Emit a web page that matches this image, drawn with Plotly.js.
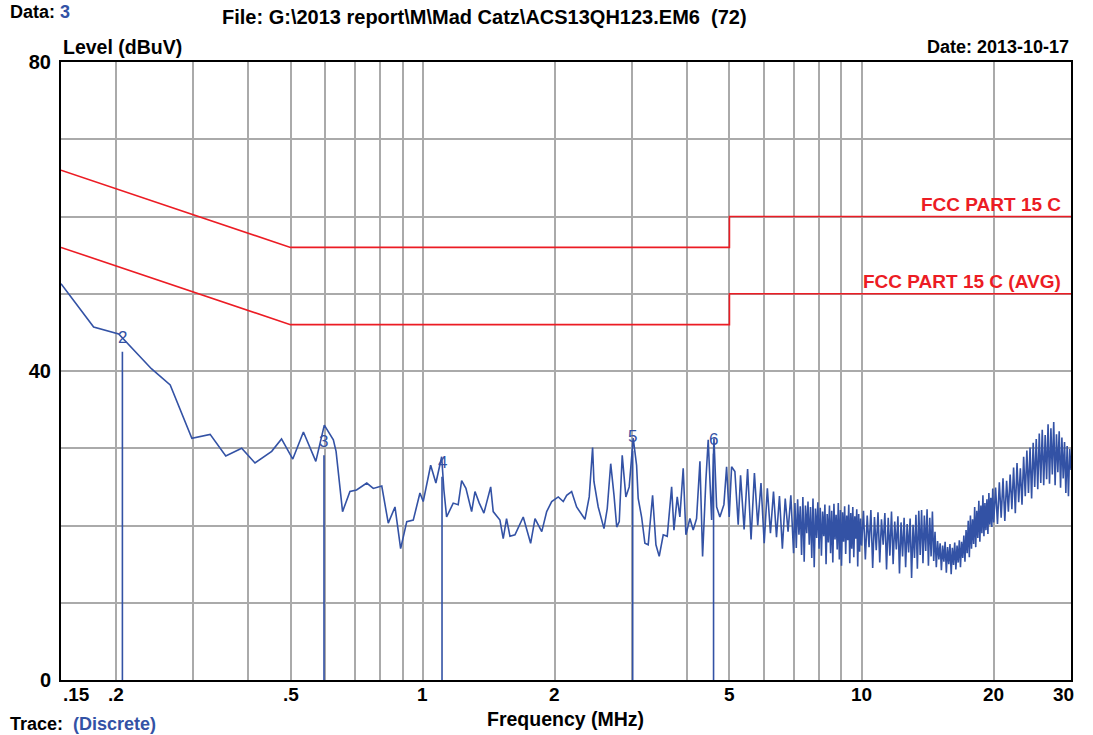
<!DOCTYPE html>
<html><head><meta charset="utf-8">
<script src="https://cdn.plot.ly/plotly-3.0.1.min.js"></script>
<style>html,body{margin:0;padding:0;background:#fff}#chart{width:1093px;height:735px}</style>
</head><body><div id="chart"></div>
<script>
// Measured trace (frequency in MHz, level in dBuV)
const traceFreq = [
0.15,0.178,0.203,0.225,0.241,0.266,0.298,0.328,0.356,0.387,0.415,0.453,0.477,0.506,0.535,0.571,0.597,0.626,0.635,0.657,
0.683,0.707,0.746,0.772,0.807,0.835,0.865,0.891,0.920,0.952,0.986,1.003,1.043,1.072,1.105,1.118,1.134,1.174,1.205,1.227,
1.255,1.293,1.316,1.346,1.379,1.429,1.448,1.500,1.526,1.553,1.581,1.623,1.695,1.762,1.803,1.868,1.917,1.968,2.037,2.091,
2.129,2.185,2.243,2.343,2.396,2.439,2.456,2.512,2.589,2.634,2.682,2.729,2.768,2.805,2.849,2.904,2.955,3.018,3.072,3.098,
3.154,3.209,3.265,3.341,3.400,3.459,3.533,3.608,3.692,3.737,3.802,3.855,3.923,3.979,4.064,4.134,4.208,4.283,4.343,4.419,
4.473,4.554,4.610,4.675,4.755,4.857,4.926,4.994,5.057,5.145,5.235,
5.3,5.4,5.5,5.6,5.7,5.8,5.9,6.0,6.1,6.2,6.3,6.4,6.5,6.6,6.7,6.8,6.9,7.0,
7.05,7.10,7.15,7.20,7.25,7.30,7.35,7.40,7.45,7.50,7.55,7.60,7.65,7.70,7.75,7.80,7.85,7.90,7.95,8.00,
8.05,8.10,8.15,8.20,8.25,8.30,8.35,8.40,8.45,8.50,8.55,8.60,8.65,8.70,8.75,8.80,8.85,8.90,8.95,9.00,
9.05,9.10,9.15,9.20,9.25,9.30,9.35,9.40,9.45,9.50,9.55,9.60,9.65,9.70,9.75,9.80,9.85,9.90,9.95,10.00,
10.1,10.2,10.3,10.4,10.5,10.6,10.7,10.8,10.9,11.0,11.1,11.2,11.3,11.4,11.5,11.6,11.7,11.8,11.9,12.0,
12.1,12.2,12.3,12.4,12.5,12.6,12.7,12.8,12.9,13.0,13.1,13.2,13.3,13.4,13.5,13.6,13.7,13.8,13.9,14.0,
14.1,14.2,14.3,14.4,14.5,14.6,14.7,14.8,14.9,15.0,15.1,15.2,15.3,15.4,15.5,15.6,15.7,15.8,15.9,16.0,
16.1,16.2,16.3,16.4,16.5,16.6,16.7,16.8,16.9,17.0,17.1,17.2,17.3,17.4,17.5,17.6,17.7,17.8,17.9,18.0,
18.1,18.2,18.3,18.4,18.5,18.6,18.7,18.8,18.9,19.0,19.1,19.2,19.3,19.4,19.5,19.6,19.7,19.8,19.9,20.0,
20.2,20.4,20.6,20.8,21.0,21.2,21.4,21.6,21.8,22.0,22.2,22.4,22.6,22.8,23.0,23.2,23.4,23.6,23.8,24.0,
24.2,24.4,24.6,24.8,25.0,25.2,25.4,25.6,25.8,26.0,26.2,26.4,26.6,26.8,27.0,27.2,27.4,27.6,27.8,28.0,
28.2,28.4,28.6,28.8,29.0,29.2,29.4,29.6,29.8,30.0
];
const traceLevel = [
51.3,45.7,44.8,42.1,40.3,38.2,31.3,31.8,29.0,30.0,28.1,29.6,31.2,28.6,32.1,28.3,33.0,31.1,29.6,21.8,
24.4,24.6,25.5,24.8,25.1,20.3,22.4,17.0,20.5,20.7,24.2,23.1,27.8,25.5,28.9,24.6,21.1,22.9,22.7,25.8,
24.8,21.8,24.4,22.9,21.6,25.0,21.8,20.7,18.3,20.9,18.6,18.8,21.1,17.7,20.9,19.2,21.8,23.1,23.7,23.1,
23.9,24.4,22.4,20.8,23.7,30.1,25.7,22.4,19.6,22.2,28.0,23.9,19.8,20.5,29.1,23.7,25.0,31.3,27.8,23.5,
21.1,17.7,17.5,23.9,17.5,16.0,18.8,18.6,25.0,19.4,23.7,21.1,27.4,18.8,20.9,19.4,20.9,28.3,16.0,25.9,
31.1,20.7,31.3,22.4,21.1,22.7,27.6,21.1,27.6,27.0,20.1,
26.5,19.5,27.3,18.2,26.8,20.0,25.5,17.7,24.8,19.0,24.4,18.5,23.8,17.0,23.5,19.2,23.9,16.4,
22.9,17.1,23.4,18.8,22.5,16.2,23.7,15.3,22.6,19.0,23.1,17.5,22.4,15.8,23.5,14.6,22.2,18.4,23.0,17.0,
22.3,16.1,21.8,18.6,22.7,15.0,21.5,17.8,22.6,16.4,21.9,15.2,22.8,18.2,21.4,16.9,22.9,15.6,22.0,14.8,
21.7,17.9,22.5,16.3,21.3,18.1,22.7,15.1,21.6,17.0,22.4,15.9,21.2,18.3,22.1,14.7,21.5,16.6,20.9,17.4,
21.9,15.6,21.3,17.2,22.0,14.5,21.1,16.8,21.7,15.2,20.8,17.5,21.6,14.3,21.0,16.1,21.8,15.0,20.5,16.9,
21.2,13.8,20.4,16.0,21.0,14.6,20.2,16.5,20.9,13.2,20.1,15.8,21.4,14.4,21.9,16.2,22.0,15.1,21.3,16.7,
22.1,14.8,21.0,16.0,21.8,15.4,19.2,14.6,18.0,15.6,17.7,14.2,17.4,15.3,17.9,13.9,17.2,15.0,17.6,13.7,
17.1,14.9,17.8,14.3,17.4,15.2,18.1,14.6,17.9,15.8,18.7,15.3,19.4,16.4,20.6,15.9,21.3,17.0,20.8,17.6,
22.4,17.2,21.9,18.4,23.2,17.9,22.6,19.0,23.9,18.6,22.9,19.4,23.4,18.9,24.2,20.1,23.6,19.8,24.8,20.4,
24.9,20.2,25.6,21.0,26.1,20.6,25.8,21.8,26.6,22.1,27.5,21.6,28.1,23.0,27.4,22.7,28.9,23.8,29.7,24.2,
30.1,23.5,30.7,25.0,31.2,24.7,31.9,25.5,32.4,25.2,31.7,26.0,33.1,25.4,32.6,26.6,33.4,25.2,31.8,26.9,
32.2,24.9,31.4,26.1,30.8,24.2,30.3,23.8,29.9,27.2
];
// Limit lines
const limitFreq = [0.15, 0.5, 5, 5, 30];
const qpLimit = [66, 56, 56, 60, 60];
const avgLimit = [56, 46, 46, 50, 50];
const limitNames = ['FCC PART 15 C', 'FCC PART 15 C (AVG)'];
// Markers
const markerName = ['2', '3', '4', '5', '6'];
const markerFreq = [0.207, 0.596, 1.107, 3.01, 4.60];
const markerLevel = [44.3, 30.9, 28.1, 31.5, 31.1];
// Axes
const xTickVals = [0.15, 0.2, 0.5, 1, 2, 5, 10, 20, 30];
const xTickText = ['.15', '.2', '.5', '1', '2', '5', '10', '20', '30'];
const xGridMinor = [0.3, 0.4, 0.6, 0.7, 0.8, 0.9, 3, 4, 6, 7, 8, 9];
const yTickVals = [0, 40, 80];
const yTickText = ['0', '40', '80'];
const yGridMinor = [10, 20, 30, 50, 60, 70];

const BLUE = 'rgb(51,82,165)';
const RED = 'rgb(236,28,36)';
const FONT = '"Liberation Sans", Arial, sans-serif';
const W = 1093, H = 735, L = 61, R = 22, T = 62, B = 55;
const pw = W - L - R, ph = H - T - B;
const px = x => (x - L) / pw;
const py = y => (H - B - y) / ph;

const traces = [];
traces.push({x: limitFreq, y: qpLimit, mode: 'lines', line: {color: RED, width: 1.6}, hoverinfo: 'skip'});
traces.push({x: limitFreq, y: avgLimit, mode: 'lines', line: {color: RED, width: 1.6}, hoverinfo: 'skip'});
traces.push({x: traceFreq, y: traceLevel, mode: 'lines', line: {color: BLUE, width: 1.6}, hoverinfo: 'skip'});
markerFreq.forEach((f, i) => {
  traces.push({x: [f, f], y: [0, markerLevel[i] - 1.8], mode: 'lines', line: {color: BLUE, width: 1.6}, hoverinfo: 'skip'});
});

const ann = [];
const tickFont = {family: FONT, size: 19, color: '#000', weight: 'bold'};
xTickVals.forEach((v, i) => {
  let anchor = 'center', xs = 0;
  if (i === 0) { anchor = 'left'; xs = 0; }
  if (i === xTickVals.length - 1) { anchor = 'right'; xs = 5; }
  ann.push({x: Math.log10(v), xref: 'x', y: 0, yref: 'paper', yanchor: 'top', yshift: -2, xanchor: anchor, xshift: xs,
    text: xTickText[i], showarrow: false, font: tickFont});
});
markerFreq.forEach((f, i) => {
  ann.push({x: Math.log10(f), xref: 'x', y: markerLevel[i], yref: 'y', text: markerName[i], showarrow: false,
    xanchor: 'center', yanchor: 'middle', font: {family: FONT, size: 17, color: BLUE}});
});
const redFont = {family: FONT, size: 19, color: RED, weight: 'bold'};
ann.push({x: Math.log10(limitFreq[4]), xref: 'x', y: qpLimit[4], yref: 'y', xanchor: 'right', yanchor: 'bottom', xshift: -8, yshift: 0,
  text: limitNames[0], showarrow: false, font: redFont});
ann.push({x: Math.log10(limitFreq[4]), xref: 'x', y: avgLimit[4], yref: 'y', xanchor: 'right', yanchor: 'bottom', xshift: -8, yshift: 0,
  text: limitNames[1], showarrow: false, font: redFont});
const bold = {family: FONT, size: 18, color: '#000', weight: 'bold'};
const boldL = {family: FONT, size: 19.5, color: '#000', weight: 'bold'};
ann.push({x: px(8), xref: 'paper', y: py(12), yref: 'paper', xanchor: 'left', yanchor: 'middle', showarrow: false,
  text: 'Data: <span style="color:' + BLUE + '">3</span>', font: bold});
ann.push({x: px(220), xref: 'paper', y: py(17), yref: 'paper', xanchor: 'left', yanchor: 'middle', showarrow: false,
  text: 'File: G:\\2013 report\\M\\Mad Catz\\ACS13QH123.EM6\u00a0\u00a0(72)', font: {family: FONT, size: 20, color: '#000', weight: 'bold'}});
ann.push({x: px(61), xref: 'paper', y: py(47), yref: 'paper', xanchor: 'left', yanchor: 'middle', showarrow: false,
  text: 'Level (dBuV)', font: boldL});
ann.push({x: px(1071), xref: 'paper', y: py(47), yref: 'paper', xanchor: 'right', yanchor: 'middle', showarrow: false,
  text: 'Date: 2013-10-17', font: bold});
ann.push({x: px(565), xref: 'paper', y: py(719), yref: 'paper', xanchor: 'center', yanchor: 'middle', showarrow: false,
  text: 'Frequency (MHz)', font: boldL});
ann.push({x: px(8), xref: 'paper', y: py(724), yref: 'paper', xanchor: 'left', yanchor: 'middle', showarrow: false,
  text: 'Trace:  <span style="color:' + BLUE + '">(Discrete)</span>', font: bold});

const layout = {
  width: W, height: H, margin: {l: L, r: R, t: T, b: B, pad: 0},
  paper_bgcolor: '#fff', plot_bgcolor: '#fff', showlegend: false,
  font: {family: FONT, size: 18, color: '#000'},
  xaxis: {type: 'log', range: [Math.log10(0.15), Math.log10(30)], tickmode: 'array', tickvals: xTickVals,
    showticklabels: false, ticks: '', showgrid: true, gridcolor: '#aaaaaa', gridwidth: 2,
    minor: {tickmode: 'array', tickvals: xGridMinor, showgrid: true, gridcolor: '#aaaaaa', gridwidth: 2, ticks: ''},
    showline: true, mirror: true, linecolor: '#000', linewidth: 2, zeroline: false, fixedrange: true},
  yaxis: {range: [0, 80], tickmode: 'array', tickvals: yTickVals, ticktext: yTickText, ticks: '',
    tickfont: {family: FONT, size: 20, color: '#000', weight: 'bold'}, ticklabelstandoff: 4,
    showgrid: true, gridcolor: '#aaaaaa', gridwidth: 2,
    minor: {tickmode: 'array', tickvals: yGridMinor, showgrid: true, gridcolor: '#aaaaaa', gridwidth: 2, ticks: ''},
    showline: true, mirror: true, linecolor: '#000', linewidth: 2, zeroline: false, fixedrange: true},
  annotations: ann
};
Plotly.newPlot('chart', traces, layout, {displayModeBar: false, staticPlot: true});
</script></body></html>
